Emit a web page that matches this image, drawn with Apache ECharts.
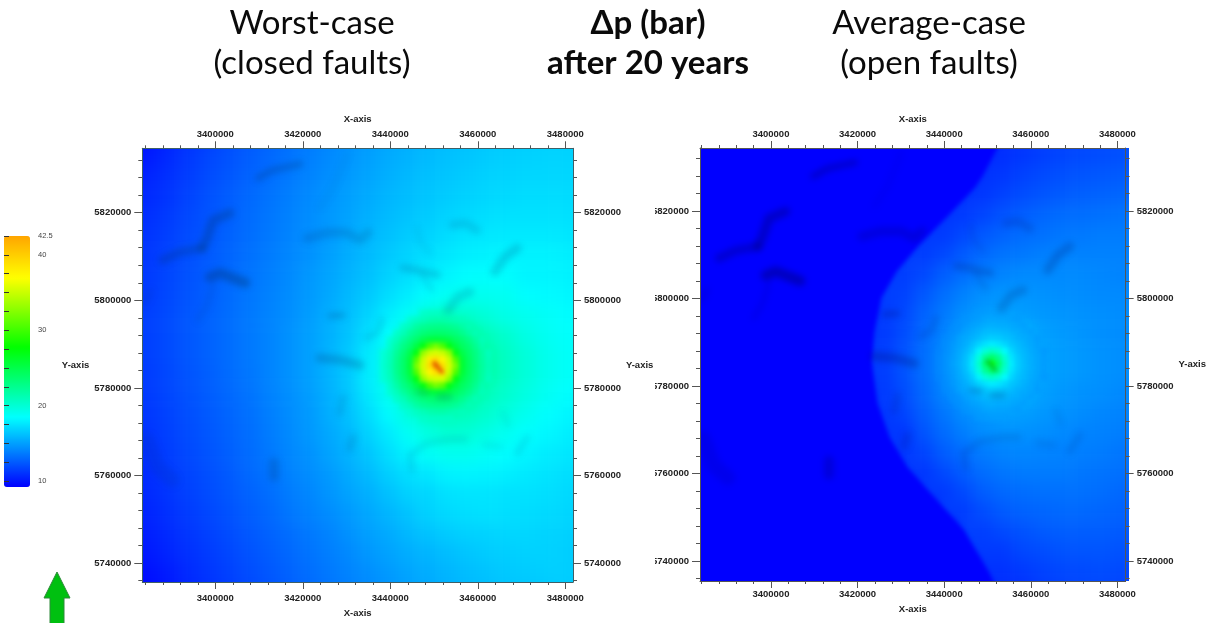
<!DOCTYPE html>
<html><head><meta charset="utf-8">
<style>
html,body{margin:0;padding:0;background:#fff;overflow:hidden}
#c{width:1208px;height:623px}
#c canvas[data-zr-dom-id="zr_0"]{filter:blur(7px);clip-path:path('M142.3 148.3H573V582H142.3Z M700 148H1129V581H700Z')}
#c canvas[data-zr-dom-id="zr_1"]{filter:blur(2.2px);clip-path:path('M142.3 148.3H573V582H142.3Z M700 148H1129V581H700Z')}
#c canvas[data-zr-dom-id="zr_2"]{filter:blur(3px);clip-path:path('M142.3 148.3H573V582H142.3Z M700 148H1129V581H700Z')}
</style>
<script src="https://cdn.jsdelivr.net/npm/echarts@6/dist/echarts.min.js"></script>
</head><body><div id="c"></div>
<script>
const _ = null;
const xTickLabels = [3400000,3420000,3440000,3460000,3480000];
const yTickLabels = [5820000,5800000,5780000,5760000,5740000];
const xMinorTicks = [3384000,3388000,3392000,3396000,3404000,3408000,3412000,3416000,3424000,3428000,3432000,3436000,3444000,3448000,3452000,3456000,3464000,3468000,3472000,3476000];
const yMinorTicks = [5832000,5828000,5824000,5816000,5812000,5808000,5804000,5796000,5792000,5788000,5784000,5776000,5772000,5768000,5764000,5756000,5752000,5748000,5744000,5736000];
const scaleTicks = [10,12.5,15,17.5,20,22.5,25,27.5,30,32.5,35,37.5,40,42.5];
const scaleLabels = [10,20,30,40,42.5];
const scaleColors = ['#0000ff','#0033ff','#0066ff','#0099ff','#00ccff','#00ffff','#00ffcc','#00ff99','#00ff66','#00ff33','#00ff00','#33ff00','#66ff00','#99ff00','#ccff00','#ffff00','#ffe100','#ffc300','#ffa500'];

const east = [3381000,3385500,3390000,3394500,3399000,3403500,3408000,3412500,3417000,3421500,3426000,3430500,3435000,3439500,3444000,3448500,3453000,3457500,3462000,3466500,3471000,3475500,3480000,3484500];
const north = [5837000,5832500,5828000,5823500,5819000,5814500,5810000,5805500,5801000,5796500,5792000,5787500,5783000,5778500,5774000,5769500,5765000,5760500,5756000,5751500,5747000,5742500,5738000,5733500];
const hotEast = [3438500,3440000,3441500,3443000,3444500,3446000,3447500,3449000,3450500,3452000,3453500,3455000,3456500,3458000,3459500,3461000,3462500];
const hotNorth = [5797000,5795500,5794000,5792500,5791000,5789500,5788000,5786500,5785000,5783500,5782000,5780500,5779000,5777500,5776000,5774500,5773000];

const worstField = [
[9.5,10,10.5,11,11.5,12,12.4,12.8,13.2,13.6,14,14.4,14.8,15.2,15.5,15.8,16,16.2,16.4,16.5,16.6,16.7,16.7,16.7],
[9.8,10.3,10.8,11.3,11.8,12.2,12.6,13,13.4,13.8,14.2,14.6,15,15.4,15.7,16,16.2,16.4,16.6,16.7,16.8,16.9,16.9,16.9],
[10.1,10.6,11,11.5,12,12.4,12.8,13.2,13.6,14,14.4,14.8,15.2,15.6,15.9,16.2,16.4,16.6,16.8,16.9,17,17,17,17],
[10.4,10.8,11.2,11.7,12.2,12.6,13,13.4,13.8,14.2,14.6,15,15.4,15.8,16.1,16.4,16.6,16.8,17,17.1,17.2,17.2,17.2,17.1],
[10.6,11,11.4,11.9,12.3,12.7,13.1,13.5,13.9,14.3,14.7,15.1,15.6,16,16.3,16.6,16.9,17.1,17.3,17.4,17.4,17.4,17.4,17.3],
[10.8,11.2,11.6,12,12.4,12.8,13.2,13.6,14,14.4,14.8,15.3,15.8,16.2,16.6,16.9,17.2,17.5,17.6,17.7,17.7,17.7,17.6,17.5],
[10.9,11.3,11.7,12.1,12.5,12.9,13.3,13.7,14.1,14.5,15,15.5,16,16.5,16.9,17.3,17.6,17.9,18,18.1,18,18,17.9,17.8],
[11,11.4,11.8,12.2,12.6,13,13.4,13.8,14.2,14.7,15.2,15.7,16.2,16.8,17.3,17.8,18.1,18.4,18.5,18.4,18.1,18.1,18,17.9],
[11.1,11.5,11.9,12.3,12.7,13.1,13.5,13.9,14.3,14.8,15.3,15.9,16.5,17.2,17.8,18.4,18.8,19,19,18.9,18.4,18.3,18.2,18],
[11.2,11.6,12,12.4,12.8,13.2,13.6,14,14.4,14.9,15.5,16.1,16.9,17.8,18.7,19.8,20.4,20.3,19.8,19.3,19,18.7,18.5,18.3],
[11.2,11.6,12,12.4,12.8,13.2,13.6,14,14.5,15,15.6,16.3,17.3,18.5,20,22,23,22.5,21,20.2,19.4,18.9,18.6,18.4],
[11.2,11.6,12,12.4,12.8,13.2,13.6,14,14.5,15,15.7,16.5,17.7,19.2,21,24,25,24,21.8,20.6,19.8,19.1,18.7,18.4],
[11.1,11.5,11.9,12.3,12.7,13.1,13.5,14,14.5,15,15.7,16.5,17.8,19.2,21,24,25,24,21.8,20.6,19.8,19.1,18.7,18.4],
[11,11.4,11.8,12.2,12.6,13,13.4,13.9,14.4,14.9,15.6,16.4,17.6,19,20.5,22.5,23.5,22.5,21,20.2,19.5,18.9,18.5,18.2],
[10.9,11.3,11.7,12.1,12.5,12.9,13.3,13.8,14.3,14.8,15.5,16.2,17.2,18.3,19.6,20.5,21,20.8,20.2,19.6,19,18.5,18.2,17.9],
[10.8,11.2,11.6,12,12.4,12.8,13.2,13.7,14.2,14.7,15.3,15.9,16.8,17.7,18.7,19.5,20,19.9,19.4,18.9,18.5,18.2,17.9,17.6],
[10.7,11.1,11.5,11.9,12.3,12.7,13.1,13.6,14.1,14.5,15.1,15.7,16.4,17.2,18,18.7,19,19,18.7,18.4,18.1,17.8,17.6,17.4],
[10.5,10.9,11.3,11.7,12.1,12.5,13,13.4,13.9,14.3,14.8,15.4,16,16.7,17.3,17.6,18,18.1,18,17.9,17.7,17.5,17.3,17.2],
[10.4,10.8,11.2,11.6,12,12.4,12.8,13.2,13.7,14.1,14.6,15.1,15.6,16.2,16.8,17,17.4,17.5,17.5,17.4,17.4,17.3,17.1,17],
[10.2,10.6,11,11.4,11.8,12.2,12.6,13,13.5,13.9,14.3,14.8,15.3,15.8,16.3,16.8,17.1,17.3,17.4,17.3,17.2,17.1,17,16.8],
[10,10.4,10.8,11.2,11.6,12,12.4,12.8,13.2,13.6,14,14.5,15,15.4,15.9,16.3,16.6,16.8,16.9,17,17,16.9,16.8,16.7],
[9.8,10.2,10.6,11,11.4,11.8,12.2,12.6,13,13.4,13.8,14.2,14.7,15.1,15.5,15.8,16.1,16.4,16.6,16.7,16.8,16.8,16.7,16.6],
[9.5,9.9,10.3,10.8,11.2,11.6,12,12.4,12.8,13.2,13.6,14,14.4,14.8,15.2,15.5,15.8,16.1,16.3,16.5,16.6,16.7,16.7,16.6],
[9.3,9.7,10.1,10.6,11,11.4,11.8,12.2,12.6,13,13.4,13.8,14.2,14.6,15,15.3,15.6,15.9,16.1,16.3,16.4,16.5,16.6,16.6]
];
const averageField = [
[9.2,9.2,9.2,9.2,9.2,9.2,9.2,9.2,9.2,9.2,9.2,9.2,9.2,9.2,10.5,10.5,10.7,11,11.3,11.5,11.7,11.8,11.9,12],
[9.2,9.2,9.2,9.2,9.2,9.2,9.2,9.2,9.2,9.2,9.2,9.2,9.2,9.2,10.8,10.8,10.9,11.2,11.5,11.7,11.9,12,12.1,12.2],
[9.2,9.2,9.2,9.2,9.2,9.2,9.2,9.2,9.2,9.2,9.2,9.2,9.2,11,11,11,11.2,11.6,11.9,12.1,12.3,12.4,12.5,12.6],
[9.2,9.2,9.2,9.2,9.2,9.2,9.2,9.2,9.2,9.2,9.2,9.2,9.2,11.1,11.1,11.2,11.6,12,12.3,12.5,12.7,12.8,12.9,13],
[9.2,9.2,9.2,9.2,9.2,9.2,9.2,9.2,9.2,9.2,9.2,9.2,11.2,11.2,11.3,11.7,12.2,12.6,12.9,13.1,13.2,13.3,13.4,13.4],
[9.2,9.2,9.2,9.2,9.2,9.2,9.2,9.2,9.2,9.2,9.2,11.3,11.3,11.3,11.8,12.4,12.8,13.1,13.3,13.5,13.6,13.7,13.7,13.7],
[9.2,9.2,9.2,9.2,9.2,9.2,9.2,9.2,9.2,9.2,11.4,11.4,11.4,11.8,12.5,13,13.4,13.6,13.8,13.9,13.9,13.9,13.9,13.8],
[9.2,9.2,9.2,9.2,9.2,9.2,9.2,9.2,9.2,11.4,11.4,11.4,11.8,12.6,13.2,13.7,14,14.2,14.2,14.2,14.2,14.1,14,14],
[9.2,9.2,9.2,9.2,9.2,9.2,9.2,9.2,11.4,11.4,11.4,11.6,12.4,13.2,13.9,14.4,14.6,14.6,14.5,14.4,14.3,14.2,14.2,14.1],
[9.2,9.2,9.2,9.2,9.2,9.2,9.2,9.2,11.3,11.3,11.3,11.8,12.8,13.6,14.4,14.8,15,14.9,14.7,14.6,14.5,14.4,14.3,14.2],
[9.2,9.2,9.2,9.2,9.2,9.2,9.2,9.2,11.3,11.3,11.3,12,13,13.9,15,16,16.4,16,15,14.8,14.6,14.4,14.3,14.2],
[9.2,9.2,9.2,9.2,9.2,9.2,9.2,9.2,11.4,11.4,11.4,12.2,13.2,14.2,15.4,17,17.8,17,15.1,14.9,14.7,14.5,14.4,14.3],
[9.2,9.2,9.2,9.2,9.2,9.2,9.2,9.2,11.4,11.4,11.4,12.2,13.2,14.2,15.4,17,17.8,17,15.1,14.9,14.7,14.5,14.4,14.3],
[9.2,9.2,9.2,9.2,9.2,9.2,9.2,9.2,11.3,11.3,11.3,12,13,14,15,16,16.4,16,15,14.7,14.5,14.4,14.2,14.1],
[9.2,9.2,9.2,9.2,9.2,9.2,9.2,9.2,11.2,11.2,11.2,11.7,12.7,13.5,14.3,14.7,15,15,14.7,14.5,14.3,14.1,14,13.9],
[9.2,9.2,9.2,9.2,9.2,9.2,9.2,9.2,9.2,11.2,11.2,11.2,12.3,13.1,13.8,14.3,14.5,14.5,14.4,14.2,14,13.9,13.8,13.7],
[9.2,9.2,9.2,9.2,9.2,9.2,9.2,9.2,9.2,9.2,11.2,11.2,11.7,12.6,13.2,13.7,14,14.1,14,13.9,13.8,13.7,13.5,13.4],
[9.2,9.2,9.2,9.2,9.2,9.2,9.2,9.2,9.2,9.2,9.2,11.2,11.2,11.9,12.6,13.2,13.5,13.7,13.7,13.7,13.5,13.4,13.3,13.2],
[9.2,9.2,9.2,9.2,9.2,9.2,9.2,9.2,9.2,9.2,9.2,9.2,11.3,11.3,11.9,12.6,13,13.2,13.3,13.3,13.3,13.2,13,12.8],
[9.2,9.2,9.2,9.2,9.2,9.2,9.2,9.2,9.2,9.2,9.2,9.2,9.2,11.4,11.4,12,12.5,12.8,12.9,13,13,12.9,12.8,12.6],
[9.2,9.2,9.2,9.2,9.2,9.2,9.2,9.2,9.2,9.2,9.2,9.2,9.2,9.2,11.5,11.5,11.9,12.2,12.5,12.6,12.6,12.6,12.5,12.4],
[9.2,9.2,9.2,9.2,9.2,9.2,9.2,9.2,9.2,9.2,9.2,9.2,9.2,9.2,11.3,11.3,11.3,11.8,12,12.2,12.3,12.3,12.2,12.1],
[9.2,9.2,9.2,9.2,9.2,9.2,9.2,9.2,9.2,9.2,9.2,9.2,9.2,9.2,9.2,11,11,11.3,11.6,11.8,11.9,12,11.9,11.8],
[9.2,9.2,9.2,9.2,9.2,9.2,9.2,9.2,9.2,9.2,9.2,9.2,9.2,9.2,9.2,10.8,10.8,10.9,11.3,11.5,11.7,11.7,11.6,11.5]
];
const openFront = [[3453000,5836200],[3452300,5834400],[3448900,5828000],[3447100,5825300],[3441100,5819100],[3434200,5812200],[3429000,5806100],[3425500,5800100],[3423900,5792300],[3423300,5785500],[3424600,5776100],[3427400,5768300],[3431500,5761500],[3437700,5754600],[3444600,5747100],[3450500,5737200],[3452300,5733400],[3380000,5733400],[3380000,5836200]];
const worstHot = [
[_,_,_,_,_,_,20.3,20.5,20.6,20.7,20.6,_,_,_,_,_,_],
[_,_,_,_,20.1,20.6,21,21.3,21.5,21.5,21.3,21.1,20.9,_,_,_,_],
[_,_,_,20.3,20.9,21.8,22.3,22.6,22.7,22.7,22.5,22.2,21.7,21.1,_,_,_],
[_,_,20.3,21,22,22.7,23.3,23.6,23.8,23.7,23.5,23.2,22.6,21.8,21.1,_,_],
[_,20,20.9,22,22.9,23.8,24.8,25.4,25.6,25.5,25,24.2,23.6,22.8,21.9,21,_],
[_,20.4,21.6,22.8,23.8,25.2,27,30.5,32,30.5,27,25.4,24.2,23.5,22.5,21.3,_],
[19.9,20.8,22.2,23.4,24.8,27,33,35,35.5,35,33,27,25,23.9,23,21.8,20.8],
[20,21,22.5,23.8,25.4,30.5,35,38,39,37.5,35,30.5,25.7,24.2,23.1,21.9,21],
[20.1,21.1,22.6,23.8,25.6,32,35.5,39,43,39,35.5,32,25.9,24.3,23.2,22,21.1],
[20,21,22.5,23.8,25.4,30.5,35,37.5,39,38,35,30.5,25.7,24.2,23.1,21.9,21],
[19.9,20.8,22.2,23.4,24.8,27,33,35,35.5,35.5,33,27,25,23.9,23,21.8,20.8],
[_,20.4,21.6,22.8,23.8,25.2,27,30.5,32,31,27,25.4,24.2,23.5,22.5,21.3,_],
[_,20,20.9,22,22.9,23.8,24.8,25.4,25.6,25.5,25,24.2,23.6,22.8,21.9,21,_],
[_,_,20.3,21,22,22.7,23.3,23.6,23.8,23.7,23.5,23.2,22.6,21.8,21.1,_,_],
[_,_,_,20.3,20.9,21.8,22.3,22.6,22.7,22.7,22.5,22.2,21.7,21.1,_,_,_],
[_,_,_,_,20.1,20.6,21,21.3,21.5,21.5,21.3,21.1,20.9,_,_,_,_],
[_,_,_,_,_,_,20.3,20.5,20.6,20.6,20.5,_,_,_,_,_,_]
];
const averageHot = [
[_,_,_,_,_,_,14.7,14.8,14.9,14.9,14.9,_,_,_,_,_,_],
[_,_,_,_,14.5,14.7,14.9,15.1,15.2,15.1,15.1,15,14.9,_,_,_,_],
[_,_,_,14.4,14.7,15,15.2,15.4,15.5,15.4,15.4,15.3,15.1,15,_,_,_],
[_,_,14.3,14.6,15,15.3,15.6,15.9,16,15.9,15.8,15.6,15.4,15.2,15,_,_],
[_,14.2,14.5,15,15.3,15.6,16,16.4,16.6,16.5,16.2,16,15.6,15.4,15.2,14.9,_],
[_,14.3,14.7,15.1,15.5,16.1,16.8,17.4,17.8,17.5,17,16.4,16,15.6,15.3,15,_],
[14,14.4,14.8,15.3,15.8,16.6,18,19.8,20.6,20,18.3,17,16.2,15.8,15.4,15.1,14.8],
[14.1,14.5,14.9,15.4,16.1,17.2,19.6,22.4,24,22.6,20,17.5,16.5,15.9,15.5,15.2,14.9],
[14.1,14.5,15,15.5,16.2,17.5,20.2,23.8,28,24,20.6,17.8,16.6,16,15.5,15.2,14.9],
[14.1,14.5,14.9,15.4,16.1,17.2,19.6,22.4,24,22.6,20,17.5,16.5,15.9,15.5,15.2,14.9],
[14,14.4,14.8,15.3,15.8,16.6,18,19.8,20.6,20,18.3,17,16.2,15.8,15.4,15.1,14.8],
[_,14.3,14.7,15.1,15.5,16.1,16.8,17.4,17.8,17.5,17,16.4,16,15.6,15.3,15,_],
[_,14.2,14.5,15,15.3,15.6,16,16.4,16.6,16.5,16.2,16,15.6,15.4,15.2,14.9,_],
[_,_,14.3,14.6,15,15.3,15.6,15.9,16,15.9,15.8,15.6,15.4,15.2,15,_,_],
[_,_,_,14.4,14.7,15,15.2,15.4,15.5,15.4,15.4,15.3,15.1,15,_,_,_],
[_,_,_,_,14.5,14.7,14.9,15.1,15.2,15.1,15.1,15,14.9,_,_,_,_],
[_,_,_,_,_,_,14.7,14.8,14.9,14.9,14.9,_,_,_,_,_,_]
];
const faultPaths = [
[[3409800,5827900],[3413000,5829700],[3419400,5831100]],
[[3403400,5819900],[3399500,5818300],[3398100,5814200],[3397000,5811900]],
[[3388000,5809200],[3391900,5811000],[3397000,5811900]],
[[3398800,5805300],[3401100,5806200],[3406800,5804000]],
[[3399500,5803500],[3398100,5798900],[3396000,5795500]],
[[3421000,5814200],[3425500,5815400],[3430100,5815400],[3433100,5813800],[3434900,5815400]],
[[3430100,5833200],[3426900,5825600],[3423900,5821100]],
[[3446100,5816700],[3446800,5813300],[3449100,5810800]],
[[3454300,5817200],[3457100,5817600],[3459800,5816000]],
[[3469000,5811900],[3466200,5809900],[3463900,5806500]],
[[3442900,5807400],[3446100,5806900],[3450700,5805800]],
[[3447300,5805800],[3449500,5802300]],
[[3458200,5801900],[3455500,5800800],[3453200,5797800]],
[[3426200,5796400],[3429200,5796600]],
[[3438100,5795500],[3437200,5792800],[3434700,5791400]],
[[3423900,5786800],[3428500,5786400],[3433100,5785200]],
[[3446100,5779100],[3448600,5778800]],
[[3450900,5777900],[3453700,5777900]],
[[3429200,5777700],[3428500,5774300]],
[[3431500,5768600],[3430800,5766300]],
[[3445000,5761300],[3444500,5764700],[3448400,5767400],[3453700,5768300],[3457100,5768300]],
[[3461700,5767000],[3465100,5766500]],
[[3471300,5768800],[3469000,5765100]],
[[3465800,5774300],[3466900,5771500]],
[[3413400,5762900],[3413400,5759700]],
[[3384400,5768100],[3386700,5761900],[3390100,5759000]],
[[3385100,5801900],[3383900,5799600]]
];
const faultDepth = [.28,.3,.26,.36,.1,.17,.05,.08,.13,.18,.18,.1,.16,.24,.11,.22,.28,.28,.11,.12,.1,.07,.1,.07,.2,.1,.1];
const faultSize = [6,9,8,10,5,9,6,4,8,9,7,5,9,5,6,9,3,4,7,8,6,7,6,5,10,15,7];
const corePath = [[3449990,5785700],[3451820,5783630]];

const panels = [
 {x0:142.3,x1:573,y0:148.3,y1:582,xRef:215.3,yRef:212.7,sx:.004375,sy:.00438,field:worstField,hot:worstHot,front:null,shade:'0,50,110',core:'rgba(225,85,0,1)',line:'#3f5f66',nameL:true,gapB:26,marB:11},
 {x0:700,x1:1129,y0:148,y1:581,xRef:771.5,yRef:211,sx:.004365,sy:.004375,field:averageField,hot:averageHot,front:openFront,shade:'0,0,80',core:'rgba(0,205,50,.9)',line:'#555',nameL:false,gapB:23,marB:8}
];
const xAxes=[],yAxes=[],grids=[],series=[],heatIdx=[];
const font='"Liberation Sans",Arial,sans-serif';
function addGrid(l,t,w,h){grids.push({left:l,top:t,width:w,height:h,show:false});return grids.length-1;}
function heatLayer(p,ce,cn,stepE,rows,zl){
 const l=p.xRef+(ce[0]-stepE/2-3400000)*p.sx, w=ce.length*stepE*p.sx;
 const t=p.yRef-(cn[0]+stepE/2-5820000)*p.sy, h=cn.length*stepE*p.sy;
 const g=addGrid(l,t,w,h);
 xAxes.push({type:'category',gridIndex:g,data:ce.map(String),show:false});
 yAxes.push({type:'category',gridIndex:g,data:cn.map(String),inverse:true,show:false});
 const cells=[];
 rows.forEach((r,j)=>r.forEach((v,i)=>{if(v!==null)cells.push([i,j,v]);}));
 heatIdx.push(series.length);
 series.push({type:'heatmap',xAxisIndex:xAxes.length-1,yAxisIndex:yAxes.length-1,data:cells,zlevel:zl,silent:true,progressive:0,animation:false,itemStyle:{borderWidth:0}});
}
function valueAxis(o){return Object.assign({type:'value',zlevel:3,splitLine:{show:false},scale:true,silent:true},o);}
panels.forEach((p,pi)=>{
 heatLayer(p,east,north,4500,p.field,0);
 heatLayer(p,hotEast,hotNorth,1500,p.hot,1);
 const g=addGrid(p.x0,p.y0,p.x1-p.x0,p.y1-p.y0);
 const xMin=3400000+(p.x0-p.xRef)/p.sx,xMax=3400000+(p.x1-p.xRef)/p.sx;
 const yMax=5820000+(p.yRef-p.y0)/p.sy,yMin=5820000-(p.y1-p.yRef)/p.sy;
 const lab={fontFamily:font,fontSize:9.5,fontWeight:'bold',color:'#222'};
 const nm={fontFamily:font,fontSize:9.5,fontWeight:'bold',color:'#222'};
 const tk=(len)=>({lineStyle:{color:'#555',width:1},length:len});
 ['top','bottom'].forEach(pos=>{
  xAxes.push(valueAxis({gridIndex:g,position:pos,min:xMin,max:xMax,name:'X-axis',nameLocation:'middle',nameGap:pos==='top'?21:p.gapB,nameTextStyle:nm,
   axisLine:{show:true,lineStyle:{color:p.line}},
   axisTick:Object.assign({show:true,customValues:xTickLabels},tk(7)),
   axisLabel:{show:true,customValues:xTickLabels,margin:pos==='top'?9:p.marB,formatter:v=>String(v),...lab}}));
  xAxes.push(valueAxis({gridIndex:g,position:pos,min:xMin,max:xMax,axisLine:{show:false},
   axisTick:Object.assign({show:true,customValues:xMinorTicks},tk(3)),axisLabel:{show:false}}));
 });
 ['left','right'].forEach(pos=>{
  const named=(pos==='right')||p.nameL;
  yAxes.push(valueAxis({gridIndex:g,position:pos,min:yMin,max:yMax,name:named?'Y-axis':'',nameLocation:'middle',nameRotate:0,nameGap:pos==='left'?53:49,nameTextStyle:nm,
   axisLine:{show:true,lineStyle:{color:p.line}},
   axisTick:Object.assign({show:true,customValues:yTickLabels},tk(8)),
   axisLabel:{show:true,customValues:yTickLabels,margin:11,formatter:v=>String(v),...lab}}));
  yAxes.push(valueAxis({gridIndex:g,position:pos,min:yMin,max:yMax,axisLine:{show:false},
   axisTick:Object.assign({show:true,customValues:yMinorTicks},tk(4)),axisLabel:{show:false}}));
 });
 const xi=xAxes.length-4,yi=yAxes.length-4;
 if(p.front){
  series.push({type:'custom',xAxisIndex:xi,yAxisIndex:yi,data:p.front,zlevel:1,z:1,silent:true,animation:false,clip:false,
   renderItem:(params,api)=>{
    if(params.dataIndex!==0)return null;
    return {type:'polygon',shape:{points:p.front.map(q=>api.coord(q))},style:{fill:'#0000ff'}};
   }});
 }
 faultPaths.forEach((path,k)=>{
  series.push({type:'line',xAxisIndex:xi,yAxisIndex:yi,data:path,zlevel:2,symbol:'none',silent:true,animation:false,clip:true,
   lineStyle:{color:`rgba(${p.shade},${faultDepth[k]})`,width:faultSize[k],cap:'round',join:'round'}});
 });
 series.push({type:'line',xAxisIndex:xi,yAxisIndex:yi,data:corePath,zlevel:1,z:5,symbol:'none',silent:true,animation:false,clip:true,
   lineStyle:{color:p.core,width:4,cap:'round'}});
});
// colour-scale axis
const sg=addGrid(4,236,26,251);
xAxes.push({type:'value',gridIndex:sg,show:false,min:0,max:1});
yAxes.push({type:'value',gridIndex:sg,position:'right',min:9.2,max:42.5,zlevel:4,splitLine:{show:false},
 axisLine:{show:false},
 axisTick:{show:true,customValues:scaleTicks,length:5,lineStyle:{color:'#333'}},
 axisLabel:{show:true,customValues:scaleLabels,margin:8,fontFamily:font,fontSize:7.5,color:'#444',formatter:v=>String(v)}});

const titleStyle=(w)=>({fontFamily:'Lato',fontSize:33,fontWeight:w,color:'#0a0a0a',lineHeight:40});
const option={
 animation:false,
 title:[
  {text:'Worst-case\n(closed faults)',left:312,top:3,padding:0,textAlign:'center',zlevel:3,textStyle:titleStyle('normal')},
  {text:'Δp (bar)\nafter 20 years',left:648,top:3,padding:0,textAlign:'center',zlevel:3,textStyle:titleStyle('bold')},
  {text:'Average-case\n(open faults)',left:929,top:3,padding:0,textAlign:'center',zlevel:3,textStyle:titleStyle('normal')}
 ],
 grid:grids,xAxis:xAxes,yAxis:yAxes,series:series,
 visualMap:{type:'continuous',min:9.2,max:42.5,seriesIndex:heatIdx,calculable:false,realtime:false,left:4,top:236,padding:0,itemWidth:26,itemHeight:251,text:['',''],showLabel:false,zlevel:3,inRange:{color:scaleColors},handleSize:0,indicatorSize:0,hoverLink:false,silent:true},
 graphic:[
  {type:'rect',zlevel:5,silent:true,shape:{x:650,y:203,width:5,height:150},style:{fill:'#fff'}},
  {type:'rect',zlevel:5,silent:true,shape:{x:650,y:378,width:5,height:192},style:{fill:'#fff'}},
  {type:'polygon',zlevel:5,silent:true,shape:{points:[[57,572],[70,598],[64,598],[64,626],[50,626],[50,598],[44,598]]},style:{fill:'#00c010',stroke:'#2f8a3a',lineWidth:1}}
 ]
};
const chart=echarts.init(document.getElementById('c'),null,{renderer:'canvas',width:1208,height:623});
chart.setOption(option);
</script></body></html>
